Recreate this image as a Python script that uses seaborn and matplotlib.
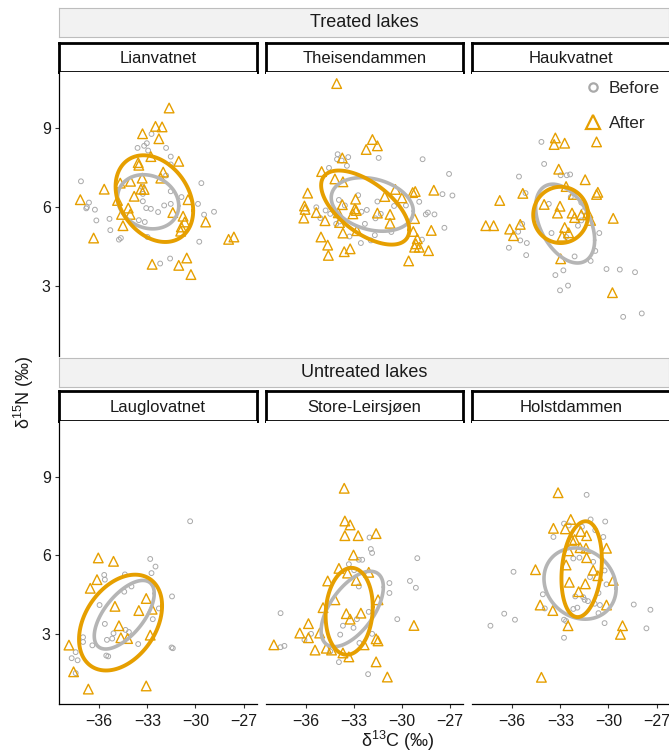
import numpy as np
import pandas as pd
import matplotlib
matplotlib.use("Agg")
import matplotlib.pyplot as plt
from matplotlib.lines import Line2D
import seaborn as sns

# lakes and groups
treated_lakes = ["Lianvatnet", "Theisendammen", "Haukvatnet"]
untreated_lakes = ["Lauglovatnet", "Store-Leirsjøen", "Holstdammen"]
periods = ["Before", "After"]

# d13C / d15N values
lian_before_x = [-32.74, -33.03, -33.20, -33.61, -32.95, -31.83, -31.54, -31.54, -31.83, -37.14, -29.63, -33.32, -33.28,
                 -31.54, -30.87, -36.64, -36.77, -36.81, -36.27, -33.28, -33.07, -32.78, -32.33, -31.95, -31.54, -29.84,
                 -29.46, -28.84, -35.36, -36.18, -33.53, -33.16, -35.31, -34.77, -34.65, -32.99, -29.76, -31.58, -32.20]
lian_before_y = [8.77, 8.42, 8.32, 8.24, 8.14, 8.24, 7.91, 7.61, 7.19, 6.97, 6.90, 6.75, 6.49,
                 6.59, 6.37, 6.16, 5.99, 5.94, 5.89, 6.21, 5.95, 5.92, 5.80, 6.05, 6.11, 6.11,
                 5.70, 5.81, 5.54, 5.48, 5.49, 5.42, 5.11, 4.75, 4.81, 4.85, 4.67, 4.03, 3.84]
lian_after_x = [-31.64, -32.49, -32.08, -33.30, -32.28, -32.78, -33.57, -33.53, -31.04, -32.01, -32.16, -33.32, -34.05,
                -34.69, -35.69, -33.40, -33.20, -33.82, -37.18, -34.86, -30.46, -34.19, -34.07, -31.41, -34.61, -30.77,
                -30.67, -29.36, -34.52, -30.88, -30.92, -36.35, -27.93, -27.60, -30.54, -32.70, -31.04, -30.28]
lian_after_y = [9.76, 9.06, 9.04, 8.78, 8.59, 7.91, 7.68, 7.58, 7.73, 7.32, 7.09, 7.09, 6.97,
                6.90, 6.67, 6.67, 6.66, 6.40, 6.27, 6.24, 6.27, 5.95, 5.71, 5.78, 5.71, 5.64,
                5.42, 5.42, 5.28, 5.23, 5.07, 4.81, 4.76, 4.85, 4.05, 3.81, 3.77, 3.42]

theis_before_x = [-34.01, -34.05, -33.35, -33.76, -31.45, -28.71, -34.55, -33.43, -27.06, -27.47, -26.85, -28.92, -31.53,
                  -30.49, -29.75, -33.93, -35.34, -35.09, -34.47, -34.76, -33.56, -32.73, -32.52, -32.19, -31.65, -32.31,
                  -31.32, -33.89, -33.27, -32.56, -31.94, -31.69, -30.66, -28.51, -27.97, -28.38, -27.35, -28.75, -34.10]
theis_before_y = [8.00, 7.81, 7.89, 7.76, 7.86, 7.81, 7.48, 7.56, 7.25, 6.48, 6.43, 6.19, 6.20,
                  6.03, 6.05, 6.26, 5.98, 5.57, 5.73, 5.86, 6.05, 6.44, 5.81, 5.88, 5.56, 5.35,
                  5.73, 5.44, 4.87, 4.62, 4.72, 4.92, 5.04, 5.71, 5.71, 5.78, 5.20, 4.75, 5.35]
theis_after_x = [-34.07, -31.84, -32.23, -31.53, -33.72, -35.01, -34.18, -33.68, -35.88, -36.08, -36.04, -36.12, -35.34,
                 -34.80, -33.97, -33.72, -32.89, -32.94, -32.85, -33.06, -33.89, -31.53, -30.74, -30.74, -31.07, -30.41,
                 -30.00, -29.33, -29.17, -28.01, -29.21, -28.17, -29.29, -33.68, -32.81, -35.05, -34.63, -34.59, -33.23,
                 -33.60, -29.04, -29.13, -28.92, -29.21, -28.34, -29.58]
theis_after_y = [10.69, 8.56, 8.18, 8.32, 7.86, 7.34, 7.06, 6.95, 6.52, 6.03, 5.90, 5.57, 5.78,
                 5.47, 5.77, 6.08, 6.29, 5.92, 5.86, 5.73, 5.40, 5.76, 5.71, 5.37, 6.39, 6.66,
                 6.34, 6.54, 6.58, 6.63, 5.55, 5.10, 5.06, 5.00, 5.09, 4.85, 4.54, 4.15, 4.40,
                 4.29, 4.78, 4.59, 4.46, 4.46, 4.33, 3.94]

hauk_before_x = [-34.18, -34.01, -35.58, -32.98, -32.60, -32.39, -35.17, -33.72, -32.35, -31.69, -31.57, -31.69, -35.38,
                 -35.63, -33.55, -30.57, -35.50, -35.09, -36.21, -35.13, -30.82, -32.64, -31.90, -32.11, -31.11, -32.81,
                 -33.31, -30.12, -29.29, -28.34, -32.52, -33.02, -29.08, -27.92]
hauk_before_y = [8.47, 7.63, 7.15, 7.20, 7.20, 7.23, 6.52, 6.11, 6.37, 6.16, 5.83, 5.48, 5.35,
                 5.05, 5.00, 5.00, 4.72, 4.62, 4.44, 4.16, 4.32, 4.85, 5.28, 4.11, 3.94, 3.58,
                 3.40, 3.63, 3.61, 3.51, 3.00, 2.82, 1.81, 1.94]
hauk_after_x = [-33.31, -33.39, -32.73, -30.74, -33.10, -31.45, -32.64, -32.19, -30.66, -30.74, -35.34, -36.78, -34.01,
                -33.02, -33.18, -32.27, -32.11, -31.69, -31.28, -31.11, -29.70, -37.65, -37.16, -36.16, -35.92, -35.50,
                -32.89, -32.73, -32.48, -32.98, -29.75]
hauk_after_y = [8.62, 8.37, 8.42, 8.47, 7.43, 7.03, 6.77, 6.47, 6.55, 6.47, 6.51, 6.24, 6.09,
                6.02, 5.76, 5.76, 5.59, 5.69, 5.76, 5.48, 5.56, 5.28, 5.28, 5.15, 4.90, 5.33,
                4.88, 5.21, 5.01, 4.02, 2.73]

laug_before_x = [-30.33, -32.82, -32.49, -32.74, -35.69, -35.65, -34.40, -33.99, -34.44, -32.62, -31.46, -35.98, -32.28,
                 -32.66, -35.65, -35.11, -34.36, -34.15, -35.19, -35.52, -37.01, -37.01, -36.43, -33.57, -31.49, -31.41,
                 -35.56, -35.44, -37.47, -37.72, -37.35, -37.47]
laug_before_y = [7.30, 5.86, 5.57, 5.32, 5.25, 5.07, 5.27, 4.81, 4.61, 4.89, 4.43, 4.10, 3.97,
                 3.56, 3.38, 3.02, 3.15, 3.07, 2.82, 2.77, 2.87, 2.69, 2.56, 2.61, 2.48, 2.45,
                 2.17, 2.14, 2.30, 2.07, 1.99, 1.50]
laug_after_x = [-36.06, -35.11, -36.14, -36.56, -35.02, -33.07, -33.53, -32.70, -34.77, -34.65, -34.23, -32.82, -37.89,
                -37.60, -36.68, -33.07]
laug_after_y = [5.90, 5.77, 5.07, 4.74, 4.05, 4.35, 3.89, 3.94, 3.31, 2.85, 2.82, 2.95, 2.57,
                1.55, 0.89, 1.01]

store_before_x = [-32.02, -31.94, -31.86, -32.69, -32.48, -33.31, -32.98, -29.04, -32.69, -30.78, -29.50, -29.13, -30.78,
                  -37.57, -32.07, -32.81, -30.29, -33.68, -33.02, -33.85, -35.67, -36.08, -31.86, -37.57, -37.33, -34.47,
                  -33.93, -32.11, -32.65]
store_before_y = [6.68, 6.24, 6.09, 5.83, 5.83, 5.66, 5.43, 5.89, 4.81, 4.94, 5.02, 4.76, 4.56,
                  3.79, 3.84, 3.56, 3.56, 3.31, 3.23, 2.97, 3.00, 2.77, 3.00, 2.49, 2.54, 2.33,
                  1.92, 1.46, 2.65]
store_after_x = [-33.60, -33.56, -33.23, -33.56, -32.73, -31.61, -33.02, -33.93, -33.39, -32.85, -34.63, -32.07, -34.18,
                 -31.49, -34.92, -33.47, -33.23, -32.56, -35.83, -36.37, -35.83, -35.13, -37.99, -35.42, -34.72, -34.39,
                 -33.68, -33.31, -32.36, -31.61, -31.49, -31.61, -29.25, -30.91]
store_after_y = [8.56, 7.31, 7.16, 6.75, 6.75, 6.83, 6.01, 5.50, 5.32, 5.04, 5.02, 5.35, 4.30,
                 4.30, 4.00, 3.77, 3.56, 3.79, 3.39, 3.03, 2.85, 3.03, 2.58, 2.38, 2.45, 2.38,
                 2.27, 2.12, 2.58, 2.81, 2.73, 1.93, 3.32, 1.35]

holst_before_x = [-31.36, -31.11, -30.20, -32.77, -32.48, -31.65, -30.82, -30.32, -33.43, -32.19, -31.81, -30.95, -30.24,
                  -35.92, -31.15, -30.12, -34.09, -32.07, -31.57, -31.28, -30.62, -32.19, -31.94, -33.97, -30.86, -30.53,
                  -30.62, -28.42, -27.38, -36.50, -35.83, -37.36, -32.77, -32.64, -30.24, -27.63, -32.77, -31.48]
holst_before_y = [8.31, 7.37, 7.29, 7.21, 7.14, 7.09, 6.96, 6.70, 6.70, 5.88, 5.91, 5.75, 5.42,
                  5.37, 5.17, 4.89, 4.51, 4.43, 4.40, 4.25, 4.56, 3.95, 4.00, 3.97, 4.15, 4.10,
                  3.79, 4.12, 3.92, 3.77, 3.54, 3.31, 3.54, 3.49, 3.41, 3.21, 2.85, 4.30]
holst_after_x = [-33.14, -32.35, -33.43, -32.69, -31.73, -31.36, -32.27, -32.11, -31.77, -31.40, -30.12, -32.48, -31.36,
                 -32.64, -34.55, -30.95, -30.66, -29.70, -32.44, -31.44, -31.86, -34.26, -33.47, -30.12, -32.52, -29.12,
                 -29.25, -34.18]
holst_after_y = [8.39, 7.37, 7.03, 7.01, 6.91, 6.75, 6.57, 6.60, 6.29, 6.27, 6.27, 6.17, 5.91,
                 5.63, 5.45, 5.43, 5.22, 5.04, 4.97, 4.91, 4.61, 4.10, 3.89, 4.10, 3.31, 3.31,
                 2.98, 1.34]

# standard ellipses (lake order: treated then untreated)
ell_lakes = treated_lakes + untreated_lakes
before_cx = [-32.95, -31.85, -32.70, -34.44, -33.10, -31.77]
before_cy = [6.19, 6.09, 5.36, 3.73, 3.95, 4.92]
before_sx = [1.91, 2.56, 1.84, 1.87, 1.94, 2.25]
before_sy = [1.03, 1.02, 1.50, 1.31, 1.44, 1.36]
before_r = [-0.15, -0.25, -0.42, 0.62, 0.58, -0.14]
after_cx = [-32.56, -32.29, -32.98, -34.67, -33.29, -31.67]
after_cy = [6.31, 5.97, 5.69, 3.43, 3.86, 5.47]
after_sx = [2.42, 2.75, 1.71, 2.59, 1.47, 1.26]
after_sy = [1.65, 1.41, 1.07, 1.83, 1.66, 1.83]
after_r = [-0.28, -0.60, 0.00, 0.35, 0.10, 0.20]

x_ticks = [-36, -33, -30, -27]
y_ticks = [3, 6, 9]

raw = {
    "Lianvatnet": (lian_before_x, lian_before_y, lian_after_x, lian_after_y),
    "Theisendammen": (theis_before_x, theis_before_y, theis_after_x, theis_after_y),
    "Haukvatnet": (hauk_before_x, hauk_before_y, hauk_after_x, hauk_after_y),
    "Lauglovatnet": (laug_before_x, laug_before_y, laug_after_x, laug_after_y),
    "Store-Leirsjøen": (store_before_x, store_before_y, store_after_x, store_after_y),
    "Holstdammen": (holst_before_x, holst_before_y, holst_after_x, holst_after_y),
}
rows = []
for lake, (bx, by, ax_, ay) in raw.items():
    for x, y in zip(bx, by):
        rows.append({"lake": lake, "period": "Before", "d13C": x, "d15N": y})
    for x, y in zip(ax_, ay):
        rows.append({"lake": lake, "period": "After", "d13C": x, "d15N": y})
df = pd.DataFrame(rows)

ell = pd.DataFrame({
    "lake": ell_lakes * 2,
    "period": ["Before"] * 6 + ["After"] * 6,
    "cx": before_cx + after_cx, "cy": before_cy + after_cy,
    "sx": before_sx + after_sx, "sy": before_sy + after_sy,
    "r": before_r + after_r,
})


def ellipse_path(cx, cy, sx, sy, r, segments=120):
    cov = np.array([[sx * sx, r * sx * sy], [r * sx * sy, sy * sy]])
    ang = np.linspace(0, 2 * np.pi, segments + 1)
    circle = np.column_stack([np.cos(ang), np.sin(ang)])
    pts = np.array([cx, cy]) + circle @ np.linalg.cholesky(cov).T
    return pts[:, 0], pts[:, 1]


sns.set_theme(style="ticks")
plt.rcParams["font.family"] = ["Liberation Sans", "DejaVu Sans"]
plt.rcParams["mathtext.default"] = "regular"

W, H = 669, 753
fig = plt.figure(figsize=(W / 100, H / 100), dpi=100)


def px_axes(left, top, width, height):
    return fig.add_axes([left / W, 1 - (top + height) / H, width / W, height / H])


grey_pt = "#A9A9A9"
grey_ell = "#B5B5B5"
orange = "#E69F00"
panel_left = [59, 265.5, 472]
panel_w = 197.5
rows_cfg = [
    ("Treated lakes", treated_lakes, 8, 42.5, 72, 284, False),
    ("Untreated lakes", untreated_lakes, 358, 391.5, 421, 283, True),
]

for group, lakes, g_top, s_top, p_top, p_h, show_x in rows_cfg:
    gax = px_axes(59, g_top, 610, 28.5)
    gax.set_facecolor("#F2F2F2")
    gax.set_xticks([])
    gax.set_yticks([])
    for sp in gax.spines.values():
        sp.set_visible(True)
        sp.set_color("#BDBDBD")
        sp.set_linewidth(0.8)
    gax.text(0.5, 0.5, group, ha="center", va="center", fontsize=13, color="#1A1A1A", transform=gax.transAxes)

    for i, lake in enumerate(lakes):
        sax = px_axes(panel_left[i], s_top, panel_w, 29.5)
        sax.set_facecolor("white")
        sax.set_xticks([])
        sax.set_yticks([])
        for sp in sax.spines.values():
            sp.set_visible(True)
            sp.set_color("black")
            sp.set_linewidth(2.0)
        sax.text(0.5, 0.47, lake, ha="center", va="center", fontsize=12, color="#1A1A1A", transform=sax.transAxes)

        ax = px_axes(panel_left[i], p_top, panel_w, p_h)
        d = df[df["lake"] == lake]
        before = d[d["period"] == "Before"]
        after = d[d["period"] == "After"]
        sns.scatterplot(data=before, x="d13C", y="d15N", marker="o", s=12, facecolor="none",
                        edgecolor=grey_pt, linewidth=0.7, ax=ax, legend=False, zorder=2)
        sns.scatterplot(data=after, x="d13C", y="d15N", marker="^", s=48, facecolor="none",
                        edgecolor=orange, linewidth=1.0, ax=ax, legend=False, zorder=3)
        for period, col, lw, z in (("Before", grey_ell, 2.6, 4), ("After", orange, 2.8, 5)):
            e = ell[(ell["lake"] == lake) & (ell["period"] == period)].iloc[0]
            ex, ey = ellipse_path(e["cx"], e["cy"], e["sx"], e["sy"], e["r"])
            sns.lineplot(x=ex, y=ey, sort=False, estimator=None, color=col, lw=lw, ax=ax, zorder=z)

        ax.set_xlim(-38.51, -26.19)
        ax.set_ylim(0.32, 11.13)
        ax.set_xlabel("")
        ax.set_ylabel("")
        ax.spines["top"].set_visible(False)
        ax.spines["right"].set_visible(False)
        ax.tick_params(colors="#333333", labelcolor="#1A1A1A", labelsize=11.5, length=3, width=0.8)
        ax.tick_params(axis="x", pad=4)
        ax.tick_params(axis="y", pad=3)
        for sp in ("left", "bottom"):
            ax.spines[sp].set_linewidth(0.9)
            ax.spines[sp].set_color("black")
        if show_x:
            ax.set_xticks(x_ticks)
        else:
            ax.set_xticks([])
            ax.spines["bottom"].set_visible(False)
        if i == 0:
            ax.set_yticks(y_ticks)
        else:
            ax.set_yticks([])
            ax.spines["left"].set_visible(False)

handles = [
    Line2D([], [], ls="none", marker="o", ms=6, mfc="none", mec=grey_pt, mew=1.6),
    Line2D([], [], ls="none", marker="^", ms=10, mfc="none", mec=orange, mew=1.6),
]
fig.legend(handles, periods, loc="upper left", bbox_to_anchor=(575.5 / W, 1 - 74 / H), frameon=False,
           fontsize=12.5, labelspacing=1.15, handletextpad=0.3, handlelength=1.2, borderaxespad=0)

fig.text(398 / W, 1 - 741 / H, r"δ$^{13}$C (‰)", ha="center", va="center", fontsize=13, color="#1A1A1A")
fig.text(24 / W, 1 - 392 / H, r"δ$^{15}$N (‰)", ha="center", va="center", rotation=90, fontsize=13, color="#1A1A1A")

fig.savefig("out.png", dpi=100)
